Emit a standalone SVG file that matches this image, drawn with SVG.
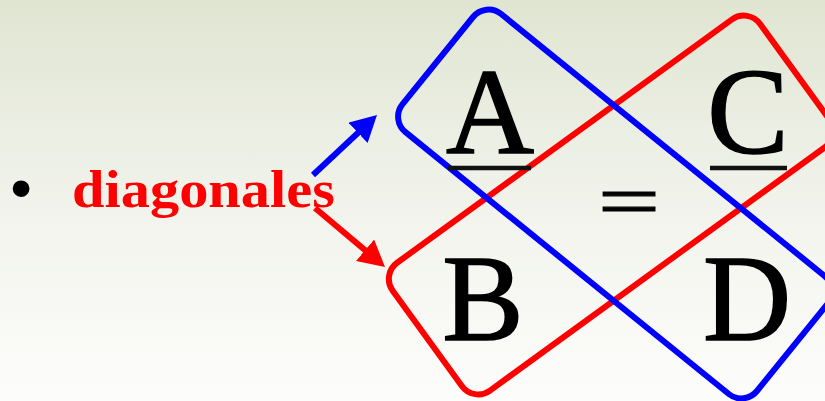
<svg xmlns="http://www.w3.org/2000/svg" width="825" height="401" viewBox="0 0 825 401">
  <defs>
    <linearGradient id="bg" x1="0" y1="0" x2="0" y2="1">
      <stop offset="0" stop-color="#e0e5d2"/>
      <stop offset="0.5" stop-color="#f1f3eb"/>
      <stop offset="1" stop-color="#fdfdfc"/>
    </linearGradient>
    <marker id="headBlue" markerUnits="userSpaceOnUse" viewBox="0 0 26 28" markerWidth="26" markerHeight="28" refX="6" refY="14" orient="auto">
      <path d="M0,0 L26,14 L0,28 Z" fill="#0000ff"/>
    </marker>
    <marker id="headRed" markerUnits="userSpaceOnUse" viewBox="0 0 26 28" markerWidth="26" markerHeight="28" refX="6" refY="14" orient="auto">
      <path d="M0,0 L26,14 L0,28 Z" fill="#ff0000"/>
    </marker>
  </defs>
  <style>
    .box { fill: none; stroke-width: 6; }
    .letter { font-family: "Liberation Serif", "Times New Roman", serif; font-size: 122px; fill: #000; stroke: #000; stroke-width: 1.6; text-anchor: middle; }
    .eq { font-family: "Liberation Serif", "Times New Roman", serif; font-size: 77px; fill: #000; stroke: #000; stroke-width: 1.2; text-anchor: middle; }
    .bar { stroke: #111; stroke-width: 4.5; }
    .arrow { fill: none; stroke-width: 6; }
  </style>
  <rect x="0" y="0" width="825" height="401" fill="url(#bg)"/>

  <g id="label">
    <text x="21" y="209" font-family="Liberation Sans, Arial, sans-serif" font-size="62" text-anchor="middle" fill="#000">•</text>
    <text x="72" y="207" font-family="Liberation Serif, 'Times New Roman', serif" font-weight="bold" font-size="53" fill="#ff0000" textLength="263" lengthAdjust="spacingAndGlyphs">diagonales</text>
  </g>

  <g id="red-diagonal">
    <rect class="box" stroke="#ff0000" transform="translate(611,205) rotate(-36)" x="-227" y="-79" width="454" height="158" rx="20" ry="20"/>
  </g>

  <g id="blue-diagonal">
    <rect class="box" stroke="#0000ff" transform="translate(615,204) rotate(39)" x="-228" y="-76" width="456" height="152" rx="20" ry="20"/>
  </g>

  <g id="proportion">
    <text class="letter" x="490" y="153">A</text>
    <line class="bar" x1="448" y1="168" x2="531" y2="168"/>
    <text class="letter" x="748" y="153">C</text>
    <line class="bar" x1="710" y1="168" x2="787" y2="168"/>
    <text class="eq" x="629" y="227" textLength="62" lengthAdjust="spacingAndGlyphs">=</text>
    <text class="letter" x="483" y="340">B</text>
    <text class="letter" x="747" y="340">D</text>
  </g>

  <g id="connectors">
    <line class="arrow" stroke="#0000ff" x1="313" y1="175" x2="362.4" y2="128.7" marker-end="url(#headBlue)"/>
    <line class="arrow" stroke="#ff0000" x1="315" y1="208" x2="369.7" y2="254.1" marker-end="url(#headRed)"/>
  </g>
</svg>
